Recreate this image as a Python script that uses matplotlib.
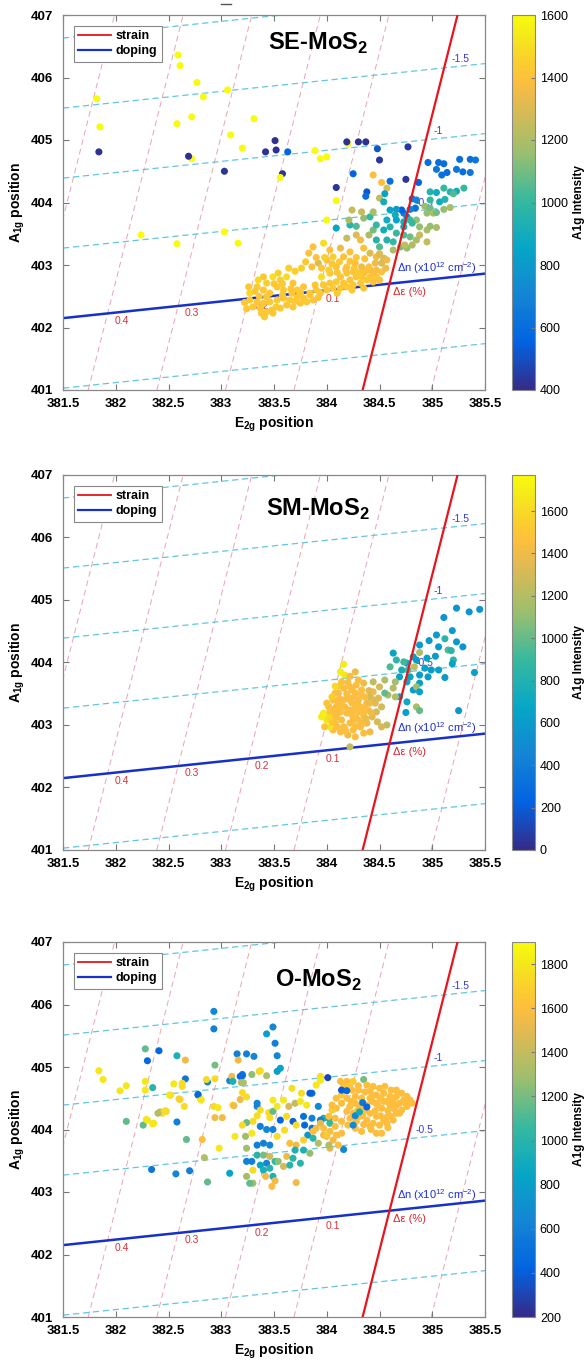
import numpy as np
import matplotlib
matplotlib.use('Agg')
import matplotlib.pyplot as plt
from matplotlib.colors import LinearSegmentedColormap
from matplotlib.lines import Line2D

plt.rcParams['font.family'] = ['Liberation Sans', 'DejaVu Sans']
plt.rcParams['mathtext.fontset'] = 'custom'
plt.rcParams['mathtext.rm'] = 'Liberation Sans'
plt.rcParams['mathtext.bf'] = 'Liberation Sans:bold'

## Raman peak positions (E2g, A1g) and A1g intensity

se_points = [
    # scattered outliers
    (381.82, 405.66, 1600), (381.85, 405.21, 1600), (381.84, 404.81, 420), (382.59, 406.36, 1600),
    (382.61, 406.19, 1600), (382.77, 405.92, 1600), (382.83, 405.69, 1600), (383.06, 405.80, 1600),
    (382.58, 405.26, 1600), (382.72, 405.37, 1600), (383.09, 405.08, 1600), (383.20, 404.87, 1600),
    (383.31, 405.34, 1600), (382.72, 404.70, 1600), (382.69, 404.74, 420), (383.03, 404.50, 430),
    (383.42, 404.81, 420), (383.51, 404.99, 420), (383.52, 404.84, 420), (383.63, 404.81, 560),
    (383.58, 404.46, 430), (383.56, 404.40, 1600), (382.24, 403.48, 1600), (382.58, 403.34, 1600),
    (383.03, 403.53, 1600), (383.16, 403.35, 1600), (384.20, 404.94, 1600), (384.19, 404.97, 420),
    (384.30, 404.97, 420), (384.37, 404.97, 420), (384.48, 404.86, 520), (384.77, 404.89, 440),
    (384.50, 404.68, 430), (383.89, 404.83, 1600), (383.94, 404.70, 1600), (384.00, 404.73, 1600),
    (384.25, 404.46, 560), (384.44, 404.44, 1380), (384.09, 404.24, 430), (384.09, 404.03, 1600),
    (384.00, 403.72, 1600),
    # blue group, upper right
    (384.96, 404.64, 600), (385.06, 404.64, 620), (385.11, 404.62, 600), (385.04, 404.53, 640),
    (385.09, 404.44, 620), (385.14, 404.48, 600), (385.26, 404.69, 600), (385.36, 404.69, 620),
    (385.41, 404.68, 640), (385.23, 404.53, 650), (385.29, 404.49, 600), (385.36, 404.48, 640),
    (384.75, 404.37, 430), (384.87, 404.32, 560), (384.60, 404.34, 600), (384.38, 404.17, 520),
    (384.37, 404.10, 600), (384.52, 404.32, 1380), (384.57, 404.23, 1300), (384.50, 404.07, 1250),
    (384.55, 404.14, 850), (384.81, 404.06, 650), (384.85, 404.04, 700), (384.84, 403.91, 620),
    (384.79, 403.89, 700), (384.73, 403.83, 650), (384.76, 403.77, 700), (384.71, 403.88, 560),
    (384.66, 403.89, 800),
    # teal / green
    (384.98, 404.17, 950), (385.04, 404.16, 900), (385.11, 404.23, 1000), (385.17, 404.17, 950),
    (385.23, 404.18, 900), (385.30, 404.23, 1000), (385.20, 404.14, 1050), (384.98, 404.04, 1000),
    (385.07, 404.01, 900), (385.12, 404.05, 950), (384.93, 403.94, 1150), (384.98, 403.91, 1100),
    (384.95, 403.83, 1150), (385.01, 403.83, 1200), (385.11, 403.89, 1150), (385.17, 403.92, 1200),
    (385.04, 403.84, 1100), (384.54, 404.01, 900), (384.60, 403.88, 850), (384.65, 403.80, 900),
    (384.57, 403.72, 900), (384.66, 403.72, 850), (384.73, 403.69, 900), (384.79, 403.72, 1000),
    (384.85, 403.72, 1150), (384.81, 403.67, 1000), (384.73, 403.61, 900), (384.60, 403.61, 950),
    (384.54, 403.56, 900), (384.66, 403.51, 1000), (384.73, 403.48, 1050), (384.79, 403.45, 1100),
    (384.57, 403.40, 950), (384.63, 403.37, 1000), (384.47, 403.40, 950), (384.50, 403.29, 1050),
    (384.70, 403.29, 1100), (384.76, 403.27, 1150), (384.63, 403.24, 1200),
    (384.88, 403.61, 1150), (384.95, 403.56, 1200), (384.98, 403.62, 1150), (385.04, 403.60, 1200),
    (384.88, 403.48, 1250), (384.85, 403.40, 1200), (384.95, 403.37, 1250), (384.81, 403.32, 1200),
    (384.74, 403.32, 1250),
    (384.09, 403.59, 850), (384.22, 403.64, 950), (384.28, 403.62, 1050), (384.21, 403.72, 1200),
    (384.35, 403.75, 1150), (384.41, 403.77, 1000), (384.33, 403.85, 1250), (384.44, 403.85, 1200),
    (384.24, 403.88, 1250),
    # ochre / gold
    (384.19, 403.43, 1250), (384.28, 403.48, 1300), (384.32, 403.40, 1350), (384.40, 403.48, 1200),
    (384.44, 403.56, 1100), (384.47, 403.64, 1000),
    (383.87, 403.29, 1400), (383.97, 403.35, 1500), (384.03, 403.24, 1400), (384.13, 403.27, 1350),
    (384.22, 403.21, 1400), (384.35, 403.27, 1400), (384.41, 403.19, 1300), (384.47, 403.13, 1350),
    (384.54, 403.11, 1300),
    (383.83, 403.19, 1400), (383.76, 402.95, 1450), (383.86, 402.97, 1400), (383.92, 403.03, 1300),
    (384.00, 403.08, 1400), (384.06, 403.13, 1450), (384.16, 403.13, 1400), (384.09, 402.97, 1400),
    (384.19, 402.97, 1450), (384.27, 403.03, 1400), (384.33, 402.97, 1350), (384.40, 402.97, 1400),
    (384.46, 403.03, 1350), (384.52, 403.03, 1300), (384.57, 403.08, 1350),
    # dense band along the doping line
    (383.34, 402.65, 1430), (383.40, 402.60, 1420), (383.46, 402.55, 1430), (383.53, 402.65, 1420),
    (383.56, 402.76, 1450), (383.62, 402.81, 1480), (383.68, 402.71, 1420), (383.72, 402.60, 1430),
    (383.78, 402.65, 1420), (383.84, 402.55, 1430), (383.90, 402.60, 1420), (383.97, 402.68, 1430),
    (384.03, 402.71, 1420), (384.09, 402.73, 1430), (384.16, 402.71, 1420), (384.22, 402.76, 1400),
    (384.28, 402.81, 1420), (384.35, 402.87, 1400), (384.41, 402.92, 1380), (384.47, 402.81, 1420),
    (384.50, 402.76, 1400),
    (383.27, 402.44, 1430), (383.34, 402.41, 1420), (383.40, 402.39, 1430), (383.46, 402.41, 1420),
    (383.53, 402.44, 1430), (383.59, 402.47, 1420), (383.65, 402.44, 1430), (383.72, 402.49, 1420),
    (383.78, 402.47, 1430), (383.84, 402.52, 1420), (383.94, 402.55, 1430), (384.00, 402.60, 1420),
    (384.06, 402.63, 1430), (384.13, 402.63, 1420), (384.19, 402.65, 1430), (384.25, 402.68, 1420),
    (384.32, 402.71, 1430), (384.38, 402.76, 1420), (384.44, 402.73, 1400),
    (383.30, 402.33, 1430), (383.37, 402.31, 1420), (383.43, 402.25, 1430), (383.49, 402.23, 1420),
    (383.56, 402.31, 1430), (383.62, 402.36, 1420), (383.68, 402.33, 1430), (383.75, 402.39, 1420),
    (383.81, 402.41, 1430), (383.87, 402.44, 1420), (383.27, 402.55, 1480), (383.43, 402.49, 1420),
    (383.59, 402.60, 1430), (383.67, 402.55, 1420), (383.75, 402.55, 1430), (383.89, 402.68, 1420),
    (383.95, 402.81, 1500), (384.03, 402.87, 1430), (384.13, 402.81, 1420), (384.19, 402.87, 1400),
    (384.25, 402.89, 1420), (384.33, 402.81, 1430), (384.41, 402.81, 1420), (384.47, 402.92, 1380),
    (384.52, 402.89, 1400), (383.43, 402.71, 1450), (383.49, 402.81, 1500), (383.54, 402.87, 1450),
    (383.35, 402.76, 1480), (383.40, 402.81, 1430), (383.26, 402.65, 1430), (383.41, 402.17, 1430),
    (383.48, 402.28, 1420), (383.38, 402.23, 1430),
    (383.95, 402.95, 1420), (384.02, 402.92, 1450), (384.10, 402.88, 1420), (384.18, 402.93, 1400),
    (384.26, 402.95, 1420), (384.30, 402.88, 1430), (384.38, 402.92, 1400), (384.44, 402.88, 1380),
    (384.36, 403.10, 1400), (384.28, 403.12, 1420), (384.22, 403.06, 1400), (384.12, 403.05, 1430),
    (384.05, 403.02, 1420), (383.98, 403.12, 1450), (383.90, 403.12, 1400), (383.80, 403.05, 1430),
    (383.70, 402.90, 1450), (383.64, 402.95, 1450), (383.58, 402.70, 1430), (383.50, 402.70, 1420),
    (383.36, 402.50, 1430), (383.32, 402.58, 1420), (383.22, 402.40, 1430), (383.24, 402.30, 1420),
    (383.52, 402.33, 1430), (383.70, 402.42, 1430), (383.92, 402.48, 1420), (384.10, 402.55, 1430),
    (384.24, 402.60, 1430), (384.35, 402.63, 1420), (384.56, 402.95, 1350), (384.50, 403.18, 1300),
    (383.66, 402.62, 1420), (383.58, 402.52, 1430),
]

sm_points = [
    # blue / teal group
    (385.23, 404.87, 550), (385.35, 404.81, 550), (385.45, 404.85, 550), (385.11, 404.72, 550),
    (385.19, 404.51, 600), (385.23, 404.33, 600), (385.29, 404.25, 550), (385.04, 404.44, 600),
    (384.97, 404.35, 600), (385.12, 404.38, 850), (385.06, 404.25, 600), (385.15, 404.20, 950),
    (385.18, 404.19, 850), (384.88, 404.28, 600), (384.88, 404.16, 1200), (384.82, 404.09, 650),
    (384.85, 404.04, 600), (384.95, 404.07, 650), (385.03, 404.10, 600), (385.20, 404.04, 850),
    (385.19, 403.98, 650), (385.40, 403.84, 650), (385.12, 403.76, 600), (385.06, 403.88, 650),
    (384.99, 403.88, 600), (384.93, 403.91, 650), (384.88, 403.80, 600), (384.96, 403.77, 600),
    (384.88, 403.67, 650), (384.79, 403.77, 650), (384.77, 403.88, 950), (384.83, 403.93, 1250),
    (384.76, 403.99, 700), (384.71, 403.88, 750), (384.73, 404.01, 900), (384.66, 404.04, 850),
    (384.63, 404.15, 650), (384.60, 403.93, 950), (384.69, 403.77, 650), (384.76, 403.69, 700),
    (384.82, 403.56, 600), (384.85, 403.61, 1150), (384.88, 403.53, 650), (384.69, 403.45, 650),
    (384.76, 403.37, 700), (384.85, 403.29, 1150), (384.88, 403.23, 1000), (384.75, 403.20, 650),
    (385.25, 403.23, 550), (384.65, 403.69, 1150), (384.63, 403.59, 1200), (384.58, 403.48, 1150),
    (384.55, 403.51, 1000), (384.65, 403.45, 1200), (384.57, 403.00, 1250), (384.52, 402.97, 1300),
    # gold cluster
    (383.97, 403.19, 1700), (384.02, 403.29, 1450), (384.06, 403.40, 1450), (384.11, 403.51, 1450),
    (384.16, 403.59, 1450), (384.22, 403.61, 1450), (384.28, 403.64, 1450), (384.35, 403.67, 1400),
    (384.33, 403.56, 1450), (384.27, 403.51, 1450), (384.20, 403.45, 1450), (384.16, 403.40, 1450),
    (384.09, 403.29, 1450), (384.05, 403.16, 1500), (384.00, 403.08, 1650), (384.08, 403.03, 1450),
    (384.14, 403.08, 1450), (384.19, 403.19, 1450), (384.25, 403.24, 1450), (384.32, 403.29, 1450),
    (384.38, 403.35, 1400), (384.41, 403.45, 1300), (384.44, 403.53, 1400), (384.39, 403.24, 1450),
    (384.35, 403.16, 1450), (384.28, 403.11, 1450), (384.22, 403.03, 1450), (384.17, 402.95, 1450),
    (384.13, 402.89, 1450), (384.20, 402.84, 1400), (384.25, 402.92, 1450), (384.32, 402.97, 1450),
    (384.38, 403.03, 1400), (384.43, 403.13, 1350), (384.47, 403.21, 1300), (384.46, 403.35, 1350),
    (384.52, 403.29, 1300), (384.49, 403.43, 1350), (384.13, 403.21, 1450), (384.06, 402.92, 1450),
    (384.03, 402.97, 1650), (383.98, 402.97, 1500), (383.95, 403.13, 1700), (384.00, 403.35, 1500),
    (384.08, 403.51, 1450), (384.14, 403.69, 1500), (384.17, 403.80, 1650), (384.13, 403.85, 1700),
    (384.16, 403.97, 1700), (384.30, 403.72, 1450), (384.24, 403.35, 1450), (384.30, 403.40, 1450),
    (384.36, 403.45, 1450), (384.50, 403.61, 1300), (384.55, 403.72, 1200), (384.44, 403.69, 1250),
    (384.41, 402.89, 1400), (384.35, 402.87, 1450), (384.27, 402.81, 1450), (384.22, 402.65, 1250),
    (384.09, 403.13, 1450), (384.17, 403.29, 1450), (384.24, 403.16, 1450), (384.30, 403.21, 1450),
    (384.36, 403.27, 1450), (384.11, 403.35, 1450), (384.22, 403.40, 1450), (384.28, 403.29, 1450),
    (384.03, 403.21, 1500), (384.16, 402.97, 1450), (384.35, 403.03, 1450), (384.25, 403.08, 1450),
    (384.41, 403.35, 1400),
    (384.05, 403.05, 1500), (384.10, 403.18, 1450), (384.12, 403.42, 1450), (384.19, 403.50, 1450),
    (384.24, 403.56, 1450), (384.20, 403.68, 1450), (384.26, 403.45, 1450), (384.33, 403.48, 1450),
    (384.40, 403.55, 1350), (384.45, 403.40, 1350), (384.42, 403.20, 1400), (384.31, 403.07, 1450),
    (384.27, 402.98, 1450), (384.18, 402.90, 1450), (384.10, 402.97, 1450), (384.02, 403.12, 1600),
    (384.07, 403.25, 1450), (384.14, 403.30, 1450), (384.21, 403.24, 1450), (384.29, 403.35, 1450),
    (384.34, 403.22, 1450), (384.37, 403.10, 1400), (384.48, 403.05, 1300), (384.12, 403.62, 1500),
    (384.22, 403.78, 1450), (384.27, 403.85, 1400), (384.08, 403.62, 1600), (384.05, 403.45, 1550),
]

o_points = [
    # spread on the left
    (382.93, 405.89, 650), (382.93, 405.61, 600), (383.49, 405.64, 650), (383.43, 405.53, 800),
    (383.51, 405.38, 600), (383.53, 405.18, 650), (383.56, 404.98, 850), (383.53, 404.93, 800),
    (383.15, 405.21, 600), (383.24, 405.21, 600), (383.31, 405.17, 650), (383.16, 405.11, 1550),
    (382.94, 405.03, 1200), (382.66, 405.11, 1550), (382.58, 405.18, 950), (382.28, 405.29, 1150),
    (382.41, 405.26, 450), (382.30, 405.10, 450), (382.66, 404.81, 550), (382.87, 404.76, 650),
    (383.08, 404.78, 650), (383.18, 404.85, 450), (383.20, 404.88, 550), (383.36, 404.93, 1700),
    (383.43, 404.86, 1350), (383.21, 404.75, 1350), (382.86, 404.80, 1750), (382.63, 404.74, 1750),
    (382.55, 404.73, 1800), (382.28, 404.77, 1800), (382.28, 404.63, 1800), (382.35, 404.67, 1000),
    (382.10, 404.70, 1800), (382.04, 404.62, 1800), (381.88, 404.80, 1800), (381.84, 404.94, 1800),
    (382.52, 404.55, 1750), (382.61, 404.48, 1700), (382.42, 404.28, 1350), (382.47, 404.30, 1750),
    (382.78, 404.55, 550), (382.80, 404.50, 1750), (382.93, 404.37, 1750), (382.97, 404.35, 1800),
    (383.11, 404.39, 1750), (383.18, 404.48, 1550), (383.24, 404.52, 1750), (383.34, 404.37, 650),
    (382.10, 404.13, 1150), (382.26, 404.07, 1150), (382.29, 404.16, 1800), (382.36, 404.10, 1800),
    (382.58, 404.12, 600), (382.94, 404.19, 1550), (383.01, 404.19, 1550),
    (382.63, 404.69, 1750), (382.78, 404.56, 450), (382.94, 404.81, 1750), (382.81, 404.47, 1800),
    (382.51, 404.55, 1800), (382.60, 404.49, 1700), (382.65, 404.37, 1750), (382.48, 404.29, 1750),
    (382.44, 404.26, 1750), (382.40, 404.26, 1350), (382.30, 404.15, 1800), (382.35, 404.09, 1800),
    (382.67, 403.84, 1150), (382.82, 403.84, 1600), (382.98, 403.70, 1800), (382.84, 403.55, 1350),
    (382.87, 403.16, 1150), (382.34, 403.36, 550), (382.57, 403.29, 650), (382.70, 403.34, 600),
    (383.08, 403.30, 850),
    # middle, mixed
    (383.10, 404.85, 1550), (383.11, 404.77, 950), (383.20, 404.86, 500), (383.19, 404.75, 1350),
    (383.29, 404.88, 1250), (383.37, 404.94, 1750), (383.20, 404.59, 1750), (383.12, 404.38, 1550),
    (383.34, 404.42, 650), (383.37, 404.31, 1750), (383.34, 404.22, 1750), (383.30, 404.13, 1750),
    (383.24, 404.11, 1150), (383.20, 404.07, 1750), (383.45, 404.27, 1750), (383.49, 404.29, 1150),
    (383.46, 404.19, 1750), (383.37, 404.05, 600), (383.43, 404.00, 650), (383.49, 404.00, 600),
    (383.29, 403.94, 1800), (383.23, 403.89, 1300), (383.13, 403.89, 1800), (383.24, 403.70, 1300),
    (383.34, 403.75, 600), (383.40, 403.78, 600), (383.46, 403.75, 650), (383.34, 403.59, 1000),
    (383.40, 403.59, 1200), (383.46, 403.57, 1450), (383.29, 403.49, 600), (383.24, 403.49, 600),
    (383.37, 403.43, 850), (383.43, 403.46, 650), (383.51, 403.49, 1050), (383.24, 403.25, 1300),
    (383.30, 403.35, 1750), (383.40, 403.35, 950), (383.46, 403.38, 1000), (383.30, 403.14, 1300),
    (383.27, 403.14, 1150), (383.42, 403.25, 1550), (383.49, 403.25, 950), (383.48, 403.09, 1600),
    (383.51, 403.18, 1550), (383.71, 403.15, 1550),
    (383.94, 404.85, 1750), (384.01, 404.83, 300), (384.35, 404.80, 1200), (383.67, 404.66, 1750),
    (383.86, 404.58, 500), (383.92, 404.37, 650), (383.78, 404.21, 500), (383.86, 404.18, 600),
    (383.79, 404.07, 450), (383.86, 404.02, 550), (383.97, 404.18, 950), (384.02, 404.18, 950),
    (384.03, 404.10, 1050), (383.94, 404.15, 600), (383.82, 403.91, 750), (383.87, 403.86, 1000),
    (383.97, 403.91, 1550), (383.92, 403.78, 1350), (384.00, 403.89, 1550), (384.06, 403.83, 1550),
    (384.09, 403.91, 1600), (384.14, 403.94, 1600), (384.03, 403.70, 1500), (384.16, 403.68, 650),
    (384.11, 403.75, 1600), (384.02, 403.75, 1350), (383.78, 403.83, 1700), (383.71, 403.75, 1550),
    (383.65, 403.78, 1600), (383.62, 403.57, 1550), (383.68, 403.54, 1000), (383.59, 403.41, 1450),
    (383.54, 403.49, 1250), (383.65, 403.43, 1000), (383.75, 403.46, 1000), (383.70, 403.67, 950),
    (383.78, 403.67, 950), (383.84, 403.62, 1250),
    (383.49, 404.47, 1800), (383.53, 404.37, 1800), (383.59, 404.47, 1800), (383.64, 404.37, 1450),
    (383.70, 404.42, 1400), (383.75, 404.45, 1800), (383.81, 404.39, 1800), (383.56, 404.15, 450),
    (383.62, 404.21, 1750), (383.68, 404.13, 400), (383.71, 404.07, 1750), (383.60, 403.99, 1750),
    (383.53, 403.89, 1750), (383.84, 404.58, 400), (383.76, 404.58, 1750), (383.94, 404.79, 1800),
    (383.90, 404.71, 1800),
    # gold cluster on the right
    (384.13, 404.77, 1600), (384.19, 404.77, 1600), (384.25, 404.77, 1650), (384.16, 404.69, 1600),
    (384.24, 404.63, 1600), (384.30, 404.63, 1600), (384.38, 404.71, 1600), (384.44, 404.69, 1600),
    (384.50, 404.66, 1600), (384.55, 404.69, 1600), (384.61, 404.63, 1600), (384.66, 404.63, 1600),
    (384.71, 404.58, 1600), (384.76, 404.53, 1600), (384.79, 404.47, 1600), (384.81, 404.42, 1600),
    (384.41, 404.61, 1600), (384.47, 404.55, 1600), (384.54, 404.58, 1600), (384.60, 404.53, 1600),
    (384.66, 404.53, 1600), (384.73, 404.47, 1600), (384.76, 404.37, 1600), (384.71, 404.31, 1600),
    (384.66, 404.26, 1600), (384.61, 404.21, 1600), (384.54, 404.15, 1600), (384.47, 404.21, 1600),
    (384.41, 404.26, 1600), (384.36, 404.31, 1600), (384.31, 404.37, 1600), (384.27, 404.42, 1600),
    (384.22, 404.37, 1600), (384.19, 404.29, 1600), (384.25, 404.26, 1600), (384.31, 404.21, 1600),
    (384.38, 404.15, 1600), (384.44, 404.10, 1600), (384.50, 404.07, 1600), (384.57, 404.10, 1600),
    (384.63, 404.15, 1600), (384.69, 404.26, 1600), (384.41, 404.50, 1600), (384.47, 404.42, 1600),
    (384.54, 404.45, 1600), (384.60, 404.39, 1600), (384.66, 404.39, 1600), (384.38, 404.39, 1600),
    (384.33, 404.50, 1600), (384.27, 404.53, 1600), (384.19, 404.50, 1600), (384.14, 404.42, 1600),
    (384.09, 404.34, 1600), (384.05, 404.31, 1650), (384.02, 404.21, 1600), (384.08, 404.18, 1600),
    (384.14, 404.13, 1600), (384.20, 404.07, 1600), (384.27, 404.02, 1600), (384.33, 403.97, 1600),
    (384.08, 404.05, 1600), (384.03, 403.97, 1600), (384.00, 403.91, 1650), (383.97, 404.02, 1600),
    (383.94, 404.10, 1500), (383.90, 404.02, 1550), (383.87, 403.97, 1600), (384.14, 404.55, 1650),
    (384.09, 404.50, 1600), (384.05, 404.39, 1600), (384.52, 403.94, 1600), (384.47, 403.94, 1600),
    (384.41, 404.05, 1600), (384.28, 404.13, 1600), (384.22, 404.18, 1600),
    (384.36, 404.60, 1600), (384.44, 404.55, 1600), (384.51, 404.50, 1600), (384.57, 404.45, 1600),
    (384.63, 404.47, 1600), (384.69, 404.42, 1600), (384.74, 404.43, 1600), (384.58, 404.30, 1600),
    (384.52, 404.34, 1600), (384.46, 404.30, 1600), (384.51, 404.22, 1600), (384.57, 404.20, 1600),
    (384.64, 404.33, 1600), (384.34, 404.22, 1600), (384.29, 404.30, 1600), (384.23, 404.45, 1600),
    (384.35, 404.08, 1600), (384.42, 404.00, 1600), (384.30, 404.70, 1600), (384.21, 404.70, 1650),
    (384.58, 404.03, 1600), (384.48, 404.40, 1600), (384.43, 404.45, 1600),
    # darker points inside the cluster
    (384.34, 404.43, 550), (384.38, 404.36, 450), (384.27, 404.22, 650), (384.31, 404.28, 900),
    (384.25, 404.07, 650), (384.14, 404.63, 400), (384.19, 404.62, 450),
]

panel_names = ['SE-MoS$_\\mathbf{2}$', 'SM-MoS$_\\mathbf{2}$', 'O-MoS$_\\mathbf{2}$']
panel_title_y = [406.55, 406.45, 406.38]
cbar_limits = [(400, 1600), (0, 1770), (200, 1900)]
cbar_ticks = [np.arange(400, 1601, 200), np.arange(0, 1601, 200), np.arange(200, 1801, 200)]

# strain / doping reference lines (Lee et al. style correlation plot)
strain_x_at_401 = 384.34
strain_slope = 6.67
doping_y_at_3815 = 402.15
doping_slope = 0.178
strain_step = 0.668     # along the doping line, per 0.1 %
doping_step = 1.151     # along the strain line, per 0.5e12 cm^-2
strain_labels = ['0.1', '0.2', '0.3', '0.4']
doping_labels = ['-0.5', '-1', '-1.5']

# MATLAB parula, sampled from the 64 entry table
parula_anchors = [
    (0.2081, 0.1663, 0.5292), (0.0117, 0.3875, 0.8820), (0.0793, 0.5200, 0.8312),
    (0.0228, 0.6535, 0.7768), (0.2178, 0.7250, 0.6193), (0.6099, 0.7473, 0.4337),
    (0.8825, 0.7274, 0.3217), (0.9938, 0.7455, 0.2403), (0.9789, 0.8271, 0.1633),
    (0.9598, 0.9218, 0.0948), (0.9763, 0.9831, 0.0538),
]
parula_pos = [0, 8, 16, 24, 32, 40, 48, 52, 56, 60, 63]
parula = LinearSegmentedColormap.from_list(
    'parula', [(p / 63, c) for p, c in zip(parula_pos, parula_anchors)])

X0, X1, Y0, Y1 = 381.5, 385.5, 401, 407


def origin():
    # intersection of the strain line and the doping line
    u = (doping_y_at_3815 + doping_slope * (strain_x_at_401 - X0) - Y0) / (1 - doping_slope / strain_slope)
    return strain_x_at_401 + u / strain_slope, Y0 + u


def draw_grid(ax):
    ox, oy = origin()
    ys = np.array([Y0, Y1])
    xs = np.array([X0, X1])
    # dashed lines parallel to the strain line
    for k in [-1, 1, 2, 3, 4, 5]:
        px = ox - k * strain_step
        py = oy - k * strain_step * doping_slope
        ax.plot(px + (ys - py) / strain_slope, ys, ls=(0, (6, 4)), color='#eaa3ad', lw=0.7, zorder=1)
    # dashed lines parallel to the doping line
    for j in [-1, 1, 2, 3, 4]:
        qx = ox + j * doping_step / strain_slope
        qy = oy + j * doping_step
        ax.plot(xs, qy + doping_slope * (xs - qx), ls=(0, (5, 3)), color='#62c6df', lw=0.9, zorder=1)
    for k, lab in enumerate(strain_labels, start=1):
        px = ox - k * strain_step
        py = oy - k * strain_step * doping_slope
        ax.text(px + 0.13, py - 0.12, lab, color='#d4323c', fontsize=7.5, ha='center', va='center', zorder=1.5)
    for j, lab in enumerate(doping_labels, start=1):
        qx = ox + j * doping_step / strain_slope
        qy = oy + j * doping_step
        ax.text(qx + 0.07, qy + 0.14, lab, color='#3b3bd0', fontsize=7.5, ha='left', va='center', zorder=1.5)
    ax.text(ox + 0.07, oy + 0.25, 'Δn (x10$^{12}$ cm$^{-2}$)', color='#1c2fd6', fontsize=8,
            ha='left', va='center', zorder=4)
    ax.text(ox + 0.03, oy - 0.14, 'Δε (%)', color='#e0202a', fontsize=8, ha='left', va='center', zorder=4)
    # main doping line (under the points) and strain line (over them)
    ax.plot(xs, doping_y_at_3815 + doping_slope * (xs - X0), color='#1630c8', lw=1.8, zorder=1.8)
    ax.plot(strain_x_at_401 + (ys - Y0) / strain_slope, ys, color='#e8141e', lw=1.6, zorder=3)


fig = plt.figure(figsize=(5.85, 13.62), dpi=100)
W, H = 585, 1362
tops = [15, 475, 942]
all_points = [se_points, sm_points, o_points]

# small stray mark above the first panel (cut-off title in the original)
fig.add_artist(Line2D([221 / W, 231 / W], [1 - 4 / H, 1 - 4 / H], color='#555555', lw=1.0))

for i in range(3):
    top = tops[i]
    ax = fig.add_axes([63 / W, (H - top - 375) / H, 422 / W, 375 / H])
    cax = fig.add_axes([512 / W, (H - top - 375) / H, 23 / W, 375 / H])

    draw_grid(ax)
    pts = np.array(all_points[i])
    vmin, vmax = cbar_limits[i]
    sc = ax.scatter(pts[:, 0], pts[:, 1], c=pts[:, 2], cmap=parula, vmin=vmin, vmax=vmax,
                    s=26, edgecolors='none', zorder=2)

    ax.set_xlim(X0, X1)
    ax.set_ylim(Y0, Y1)
    ax.set_xticks(np.arange(381.5, 385.51, 0.5))
    ax.set_xticklabels(['381.5', '382', '382.5', '383', '383.5', '384', '384.5', '385', '385.5'])
    ax.set_yticks(np.arange(401, 407.1, 1))
    ax.tick_params(direction='in', length=4, top=True, right=True, labelsize=9.5, color='#777777')
    ax.tick_params(axis='x', pad=6)
    ax.tick_params(axis='y', pad=7)
    for lab in ax.get_xticklabels() + ax.get_yticklabels():
        lab.set_fontweight('bold')
    for sp in ax.spines.values():
        sp.set_color('#888888')
        sp.set_linewidth(0.9)
    ax.set_xlabel('E$_{\\mathbf{2g}}$ position', fontsize=10, fontweight='bold', labelpad=3)
    ax.set_ylabel('A$_{\\mathbf{1g}}$ position', fontsize=10, fontweight='bold', labelpad=3)

    ax.text(383.92, panel_title_y[i], panel_names[i], fontsize=17, fontweight='bold',
            ha='center', va='center', zorder=5)

    handles = [Line2D([], [], color='#e8141e', lw=1.3), Line2D([], [], color='#1630c8', lw=1.6)]
    leg = ax.legend(handles, ['strain', 'doping'], loc='upper left', bbox_to_anchor=(0.026, 0.971),
                    borderaxespad=0, fancybox=False, framealpha=1, edgecolor='#888888',
                    prop={'weight': 'bold', 'size': 9}, handlelength=2.6, handletextpad=0.4,
                    borderpad=0.35, labelspacing=0.25)
    leg.get_frame().set_linewidth(0.8)
    leg.set_zorder(6)

    cb = fig.colorbar(sc, cax=cax)
    cb.set_ticks(cbar_ticks[i])
    cb.outline.set_edgecolor('#888888')
    cax.tick_params(direction='in', length=3, labelsize=9, color='#777777')
    cb.set_label('A1g Intensity', fontsize=8.5, fontweight='bold', labelpad=4)

fig.savefig('out.png', dpi=100)
